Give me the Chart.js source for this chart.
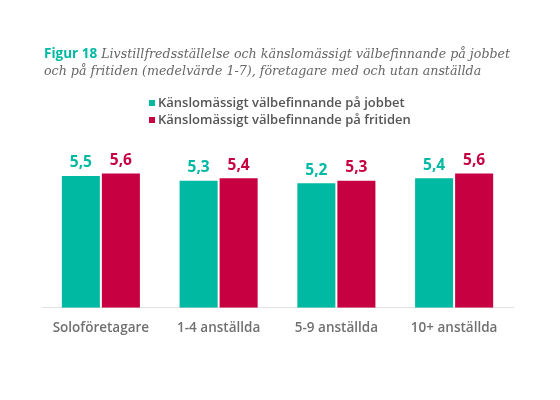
<!DOCTYPE html>
<html lang="sv">
<head>
<meta charset="UTF-8">
<title>Figur 18</title>
<script src="https://cdn.jsdelivr.net/npm/chart.js"></script>
<style>
    body {
        margin: 0;
        background: #fff;
        font-family: 'Open Sans', sans-serif;
    }
    #wrap {
        position: relative;
        width: 560px;
        height: 400px;
    }
    #title {
        position: absolute;
        left: 44px;
        top: 45px;
        width: 510px;
        white-space: nowrap;
        font-family: 'DejaVu Serif', serif;
        font-style: italic;
        font-size: 12.65px;
        line-height: 17px;
        color: #666;
    }
    #title b {
        font-family: 'Open Sans', sans-serif;
        font-style: normal;
        font-weight: 700;
        font-size: 13.5px;
        color: #00b9a2;
    }
    #legend {
        position: absolute;
        left: 149px;
        top: 94px;
        font-size: 13px;
        font-weight: 600;
        color: #555;
        line-height: 17px;
    }
    #legend span.box {
        display: inline-block;
        width: 6px;
        height: 6px;
        margin-right: 3px;
        vertical-align: 1px;
    }
    canvas { position: absolute; left: 0; top: 0; }
</style>
</head>
<body>
<div id="wrap">
    <canvas id="chart" width="560" height="400"></canvas>
    <div id="title"><b>Figur 18</b> Livstillfredsställelse och känslomässigt välbefinnande på jobbet<br>och på fritiden (medelvärde 1-7), företagare med och utan anställda</div>
    <div id="legend"></div>
</div>
<script>
    const categories = ["Soloföretagare", "1-4 anställda", "5-9 anställda", "10+ anställda"];
    const seriesNames = ["Känslomässigt välbefinnande på jobbet", "Känslomässigt välbefinnande på fritiden"];
    const jobbet = [5.5, 5.3, 5.2, 5.4];
    const fritiden = [5.6, 5.4, 5.3, 5.6];
    const colors = ["#00b9a2", "#c70041"];

    // value labels above each bar, swedish decimal comma
    const valueLabels = {
        id: 'valueLabels',
        afterDatasetsDraw(chart) {
            const ctx = chart.ctx;
            ctx.save();
            ctx.font = "700 15.5px 'Open Sans', sans-serif";
            ctx.textAlign = "center";
            ctx.textBaseline = "middle";
            chart.data.datasets.forEach((ds, i) => {
                chart.getDatasetMeta(i).data.forEach((bar, j) => {
                    ctx.fillStyle = colors[i];
                    ctx.fillText(ds.data[j].toFixed(1).replace(".", ","), bar.x, bar.y - 13);
                });
            });
            ctx.restore();
        }
    };

    const legend = document.getElementById("legend");
    seriesNames.forEach((name, i) => {
        legend.innerHTML += `<div><span class="box" style="background:${colors[i]}"></span>${name}</div>`;
    });

    new Chart(document.getElementById("chart"), {
        type: "bar",
        data: {
            labels: categories,
            datasets: [
                { label: seriesNames[0], data: jobbet, backgroundColor: colors[0] },
                { label: seriesNames[1], data: fritiden, backgroundColor: colors[1] }
            ]
        },
        options: {
            responsive: false,
            animation: false,
            layout: { padding: { top: 140, left: 42, right: 47, bottom: 60 } },
            datasets: { bar: { categoryPercentage: 0.68, barPercentage: 0.95 } },
            plugins: { legend: { display: false }, tooltip: { enabled: false } },
            scales: {
                x: {
                    grid: { display: false },
                    border: { color: "#e2e2e2" },
                    ticks: { color: "#707070", font: { family: "'Open Sans'", size: 13.5, weight: "600" }, padding: 4 }
                },
                y: { display: false, min: 0, max: 7 }
            }
        },
        plugins: [valueLabels]
    });
</script>
</body>
</html>
